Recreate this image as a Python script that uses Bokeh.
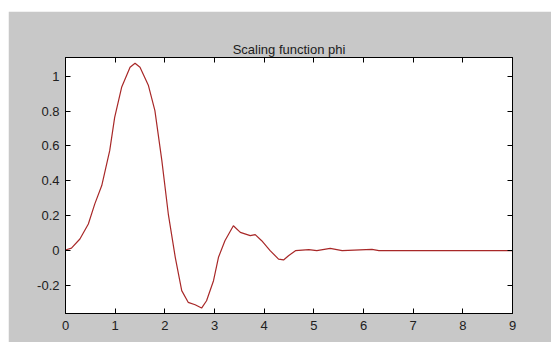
from bokeh.plotting import figure
from bokeh.models import LinearAxis, FixedTicker, CustomJSTickFormatter, Range1d, Spacer
from bokeh.layouts import column, row
from bokeh.embed import file_html
from bokeh.resources import INLINE

title_text = "Scaling function phi"
x_ticks = [0, 1, 2, 3, 4, 5, 6, 7, 8, 9]
y_ticks = [-0.2, 0, 0.2, 0.4, 0.6, 0.8, 1]

x_vals = [0.0, 0.12, 0.29, 0.46, 0.59, 0.73, 0.89, 0.99, 1.13, 1.30, 1.40, 1.50,
          1.67, 1.80, 1.94, 2.07, 2.21, 2.34, 2.47, 2.61, 2.74, 2.84, 2.98, 3.08,
          3.21, 3.38, 3.52, 3.72, 3.82, 3.95, 4.12, 4.29, 4.39, 4.49, 4.63, 4.90,
          5.06, 5.33, 5.57, 6.17, 6.31, 7.0, 8.0, 9.0]
phi_vals = [0.004, 0.015, 0.067, 0.153, 0.268, 0.373, 0.573, 0.764, 0.936, 1.051, 1.074, 1.051,
            0.946, 0.803, 0.516, 0.21, -0.038, -0.229, -0.296, -0.31, -0.329, -0.287, -0.172, -0.038,
            0.057, 0.143, 0.105, 0.086, 0.092, 0.057, 0.0, -0.048, -0.053, -0.029, 0.0, 0.006,
            0.0, 0.013, 0.0, 0.007, 0.0, 0.0, 0.0, 0.0]

p = figure(width=543, height=331, output_backend="svg", toolbar_location=None,
           x_range=Range1d(0, 9), y_range=Range1d(-0.36, 1.107),
           min_border_left=57, min_border_right=39, min_border_top=46, min_border_bottom=29,
           x_axis_location=None, y_axis_location=None)

p.title.text = title_text
p.title.align = "center"
p.title.text_font = "Liberation Sans"
p.title.text_font_size = "13px"
p.title.text_font_style = "normal"
p.title.text_color = "#202020"
p.title.standoff = 1

p.border_fill_color = "#c8c8c8"
p.background_fill_color = "white"
p.outline_line_color = "black"
p.outline_line_width = 1
p.xgrid.visible = False
p.ygrid.visible = False

fmt = CustomJSTickFormatter(code="return String(Math.round(tick*10)/10);")

def style(ax, labels):
    ax.major_tick_in = 5
    ax.major_tick_out = 0
    ax.minor_tick_in = 0
    ax.minor_tick_out = 0
    ax.axis_line_color = "black"
    ax.major_tick_line_color = "black"
    ax.major_label_text_font = "Liberation Sans"
    ax.major_label_text_font_size = "13px"
    ax.major_label_text_color = "#202020"
    ax.formatter = fmt
    if not labels:
        ax.major_label_text_font_size = "0px"
        ax.major_label_text_color = None
        ax.major_label_standoff = 0

xb = LinearAxis(ticker=FixedTicker(ticks=x_ticks))
style(xb, True)
xb.major_label_standoff = 7
p.add_layout(xb, "below")
xa = LinearAxis(ticker=FixedTicker(ticks=x_ticks))
style(xa, False)
p.add_layout(xa, "above")
yl = LinearAxis(ticker=FixedTicker(ticks=y_ticks))
style(yl, True)
yl.major_label_standoff = 6
p.add_layout(yl, "left")
yr = LinearAxis(ticker=FixedTicker(ticks=y_ticks))
style(yr, False)
p.add_layout(yr, "right")

p.line(x_vals, phi_vals, line_color="#a82828", line_width=1.2)

layout = column(Spacer(height=11, width=551), row(Spacer(width=8, height=331), p, width=551, height=331),
                width=551, height=342)
open("out.html", "w").write(file_html(layout, INLINE))
